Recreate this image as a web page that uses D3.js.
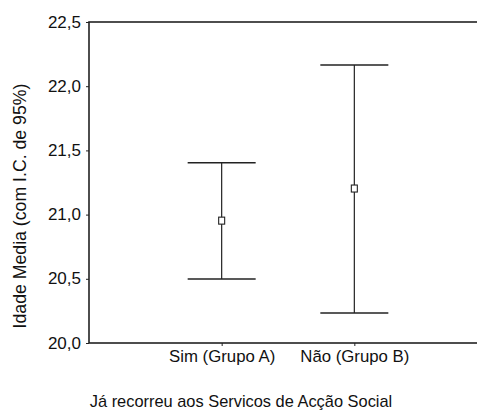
<!DOCTYPE html>
<html>
<head>
<meta charset="utf-8">
<script src="https://cdn.jsdelivr.net/npm/d3@7"></script>
<style>
  body { margin: 0; background: #fff; }
  text { font-family: "Liberation Sans", Arial, sans-serif; fill: #111; }
</style>
</head>
<body>
<div id="chart"></div>
<script>
// Data
const categories = ["Sim (Grupo A)", "Não (Grupo B)"];
const means = [20.953, 21.203];
const lowers = [20.498, 20.234];
const uppers = [21.404, 22.165];
const yTicks = [20.0, 20.5, 21.0, 21.5, 22.0, 22.5];

const width = 477;
const height = 411;
const padding = { top: 22, right: -10, bottom: 68, left: 89 };

const svg = d3.select("#chart")
  .append("svg")
  .attr("width", width)
  .attr("height", height);

const x = d3.scalePoint()
  .domain(categories)
  .range([padding.left, width - padding.right])
  .padding(1);

const y = d3.scaleLinear()
  .domain([20, 22.5])
  .range([height - padding.bottom, padding.top]);

const fmt = (d) => d3.format(".1f")(d).replace(".", ",");

// frame (right side falls outside the picture)
svg.append("rect")
  .attr("x", padding.left)
  .attr("y", padding.top)
  .attr("width", width - padding.right - padding.left)
  .attr("height", height - padding.bottom - padding.top)
  .attr("fill", "none")
  .attr("stroke", "#222")
  .attr("stroke-width", 1.6);

// y axis
const yAxis = svg.append("g")
  .attr("transform", `translate(${padding.left},0)`)
  .call(d3.axisLeft(y).tickValues(yTicks).tickFormat(fmt).tickSize(3).tickPadding(5));
yAxis.select(".domain").remove();
yAxis.selectAll("line").attr("stroke", "#222");
yAxis.selectAll("text")
  .style("font-size", "17px")
  .attr("dy", "0.3em");

// x axis
const xAxis = svg.append("g")
  .attr("transform", `translate(0,${height - padding.bottom})`)
  .call(d3.axisBottom(x).tickSize(3).tickPadding(4));
xAxis.select(".domain").remove();
xAxis.selectAll("line").attr("stroke", "#222");
xAxis.selectAll("text")
  .style("font-size", "16.8px")
  .attr("dy", "0.72em");

// axis titles
svg.append("text")
  .attr("transform", "translate(26,206) rotate(-90)")
  .attr("text-anchor", "middle")
  .style("font-size", "17.7px")
  .text("Idade Media (com I.C. de 95%)");

svg.append("text")
  .attr("x", 241)
  .attr("y", 407)
  .attr("text-anchor", "middle")
  .style("font-size", "16.4px")
  .text("Já recorreu aos Servicos de Acção Social");

// error bars
const capHalf = 34;
const bars = svg.append("g")
  .selectAll("g")
  .data(categories)
  .join("g");

bars.append("line")
  .attr("x1", (d) => x(d))
  .attr("x2", (d) => x(d))
  .attr("y1", (d, i) => y(uppers[i]))
  .attr("y2", (d, i) => y(lowers[i]))
  .attr("stroke", "#222")
  .attr("stroke-width", 1.2);

bars.append("line")
  .attr("x1", (d) => x(d) - capHalf)
  .attr("x2", (d) => x(d) + capHalf)
  .attr("y1", (d, i) => y(uppers[i]))
  .attr("y2", (d, i) => y(uppers[i]))
  .attr("stroke", "#222")
  .attr("stroke-width", 1.4);

bars.append("line")
  .attr("x1", (d) => x(d) - capHalf)
  .attr("x2", (d) => x(d) + capHalf)
  .attr("y1", (d, i) => y(lowers[i]))
  .attr("y2", (d, i) => y(lowers[i]))
  .attr("stroke", "#222")
  .attr("stroke-width", 1.4);

bars.append("rect")
  .attr("x", (d) => x(d) - 3)
  .attr("y", (d, i) => y(means[i]) - 3.5)
  .attr("width", 6)
  .attr("height", 7)
  .attr("fill", "#fff")
  .attr("stroke", "#222")
  .attr("stroke-width", 1.1);
</script>
</body>
</html>
